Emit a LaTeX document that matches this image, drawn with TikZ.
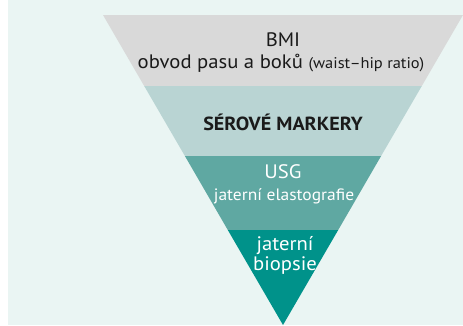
\documentclass[tikz,border=0pt]{standalone}
\usepackage{fontspec}
\setmainfont{PT Sans}[FakeStretch=1.06]
\definecolor{bgmint}{HTML}{EAF5F3}
\definecolor{bandgray}{HTML}{D9D9D9}
\definecolor{bandlight}{HTML}{B9D4D3}
\definecolor{bandmid}{HTML}{5FA8A2}
\definecolor{banddark}{HTML}{00928A}
\definecolor{txtdark}{HTML}{1A1A1A}
\begin{document}
\begin{tikzpicture}[x=1pt,y=-1pt,
  lbl/.style={anchor=base,inner sep=0pt,font=\fontsize{19.5}{22}\selectfont},
  lbldark/.style={lbl,text=txtdark},
  lbllight/.style={lbl,text=white}]
\useasboundingbox (0,0) rectangle (463,325);
\fill[white] (0,0) rectangle (463,325);
\fill[bgmint] (8,0) rectangle (463,325);
% bands
\fill[bandgray] (103,15) -- (463,15) -- (421.8,86) -- (144.2,86) -- cycle;
\fill[bandlight] (144.2,86) -- (421.8,86) -- (381.1,156) -- (184.9,156) -- cycle;
\fill[bandmid] (184.9,156) -- (381.1,156) -- (338.2,230) -- (227.8,230) -- cycle;
\fill[banddark] (227.8,230) -- (338.2,230) -- (283,325) -- cycle;
% labels
\node[lbldark] (bmi) at (283,46.7) {BMI};
\node[lbldark] (obvod) at (281,68.3) {obvod pasu a boků {\fontsize{15.5}{18}\selectfont(waist–hip ratio)}};
\node[lbldark,font=\fontsize{19}{22}\selectfont\bfseries] (sero) at (283,130) {SÉROVÉ MARKERY};
\node[lbllight] (usg) at (283,178.3) {USG};
\node[lbllight,font=\fontsize{16.5}{19}\selectfont] (elast) at (284,200) {jaterní elastografie};
\node[lbllight] (jat) at (285,250) {jaterní};
\node[lbllight] (bio) at (285,270.7) {biopsie};
\end{tikzpicture}
\end{document}
